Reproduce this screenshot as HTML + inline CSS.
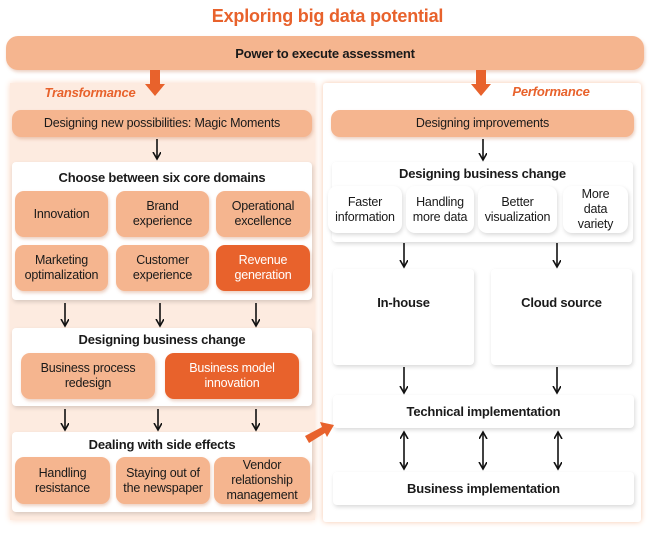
<!DOCTYPE html>
<html><head><meta charset="utf-8"><style>
body{margin:0;width:655px;height:536px;background:#fff;position:relative;overflow:hidden;font-family:"Liberation Sans",sans-serif;color:#1a1a1a}
.b{position:absolute;display:flex;align-items:center;justify-content:center;text-align:center;box-sizing:border-box;font-size:12.5px;line-height:15px;letter-spacing:-0.2px}
.p{background:#f5b58f;border-radius:9px;box-shadow:1px 2px 3px rgba(200,120,80,.35)}
.d{background:#e8622c;color:#fff;border-radius:9px;box-shadow:1px 2px 3px rgba(200,120,80,.35)}
.w{background:#fff;border-radius:4px;box-shadow:1px 2px 4px rgba(0,0,0,.15)}
.wt{background:#fff;border-radius:9px;box-shadow:1px 2px 4px rgba(0,0,0,.15)}
.t{position:absolute;font-size:13px;font-weight:bold;text-align:center;letter-spacing:-0.2px}
</style></head><body>
<div class="b" style="left:0;top:4px;width:655px;height:24px;color:#e8622c;font-size:18px;font-weight:bold">Exploring big data potential</div>
<div class="b p" style="left:6px;top:36px;width:638px;height:34px;border-radius:12px;font-weight:bold;font-size:13px">Power to execute assessment</div>
<div style="position:absolute;left:10px;top:83px;width:305px;height:437px;background:#fdebe0;box-shadow:0 0 6px #fbd9c5"></div>
<div style="position:absolute;left:323px;top:83px;width:318px;height:439px;background:#fff;box-shadow:0 0 6px #f7c7aa;border-radius:3px"></div>
<div class="b" style="left:40px;top:84px;width:100px;height:16px;color:#e8622c;font-style:italic;font-weight:bold;font-size:13px">Transformance</div>
<div class="b" style="left:510px;top:83px;width:82px;height:16px;color:#e8622c;font-style:italic;font-weight:bold;font-size:13px">Performance</div>

<div class="b p" style="left:12px;top:110px;width:300px;height:27px">Designing new possibilities: Magic Moments</div>
<div class="b w" style="left:12px;top:162px;width:300px;height:138px"></div>
<div class="t" style="left:12px;top:170px;width:300px">Choose between six core domains</div>
<div class="b p" style="left:15px;top:191px;width:93px;height:46px">Innovation</div>
<div class="b p" style="left:116px;top:191px;width:93px;height:46px">Brand<br>experience</div>
<div class="b p" style="left:216px;top:191px;width:94px;height:46px">Operational<br>excellence</div>
<div class="b p" style="left:15px;top:245px;width:93px;height:46px">Marketing<br>optimalization</div>
<div class="b p" style="left:116px;top:245px;width:93px;height:46px">Customer<br>experience</div>
<div class="b d" style="left:216px;top:245px;width:94px;height:46px">Revenue<br>generation</div>

<div class="b w" style="left:12px;top:328px;width:300px;height:78px"></div>
<div class="t" style="left:12px;top:332px;width:300px">Designing business change</div>
<div class="b p" style="left:21px;top:353px;width:134px;height:46px">Business process<br>redesign</div>
<div class="b d" style="left:165px;top:353px;width:134px;height:46px">Business model<br>innovation</div>

<div class="b w" style="left:12px;top:432px;width:300px;height:80px"></div>
<div class="t" style="left:12px;top:437px;width:300px">Dealing with side effects</div>
<div class="b p" style="left:15px;top:457px;width:95px;height:47px">Handling<br>resistance</div>
<div class="b p" style="left:116px;top:457px;width:94px;height:47px">Staying out of<br>the newspaper</div>
<div class="b p" style="left:214px;top:457px;width:96px;height:47px">Vendor<br>relationship<br>management</div>

<div class="b p" style="left:331px;top:110px;width:303px;height:27px">Designing improvements</div>
<div class="b w" style="left:332px;top:162px;width:301px;height:80px"></div>
<div class="t" style="left:332px;top:166px;width:301px">Designing business change</div>
<div class="b wt" style="left:328px;top:186px;width:74px;height:47px">Faster<br>information</div>
<div class="b wt" style="left:406px;top:186px;width:68px;height:47px">Handling<br>more data</div>
<div class="b wt" style="left:478px;top:186px;width:79px;height:47px">Better<br>visualization</div>
<div class="b wt" style="left:563px;top:186px;width:65px;height:47px">More<br>data<br>variety</div>
<div class="b w" style="left:333px;top:269px;width:141px;height:96px;align-items:flex-start;padding-top:26px;font-weight:bold;font-size:13px">In-house</div>
<div class="b w" style="left:491px;top:269px;width:141px;height:96px;align-items:flex-start;padding-top:26px;font-weight:bold;font-size:13px">Cloud source</div>
<div class="b w" style="left:333px;top:395px;width:301px;height:33px;font-weight:bold;font-size:13px">Technical implementation</div>
<div class="b w" style="left:333px;top:472px;width:301px;height:33px;font-weight:bold;font-size:13px">Business implementation</div>

<svg width="655" height="536" style="position:absolute;left:0;top:0">
<defs><marker id="a" markerWidth="10" markerHeight="10" refX="7" refY="4" orient="auto-start-reverse" markerUnits="userSpaceOnUse"><path d="M0,0 L7,4 L0,8" fill="none" stroke="#111" stroke-width="1.6"/></marker></defs>
<g fill="#e8622c">
<polygon points="150,70 160,70 160,84 165,84 155,96 145,84 150,84"/>
<polygon points="476,70 486,70 486,84 491,84 481,96 471,84 476,84"/>
<polygon points="305,436 322,427 320,422 334,425 327,437 325,433 309,443"/>
</g>
<g stroke="#111" stroke-width="1.6" marker-end="url(#a)">
<line x1="157" y1="139" x2="157" y2="159"/>
<line x1="65" y1="303" x2="65" y2="326"/><line x1="160" y1="303" x2="160" y2="326"/><line x1="256" y1="303" x2="256" y2="326"/>
<line x1="65" y1="409" x2="65" y2="430"/><line x1="158" y1="409" x2="158" y2="430"/><line x1="256" y1="409" x2="256" y2="430"/>
<line x1="483" y1="139" x2="483" y2="160"/>
<line x1="404" y1="243" x2="404" y2="267"/><line x1="557" y1="243" x2="557" y2="267"/>
<line x1="404" y1="367" x2="404" y2="393"/><line x1="557" y1="367" x2="557" y2="393"/>
</g>
<g stroke="#111" stroke-width="1.6" marker-end="url(#a)" marker-start="url(#a)">
<line x1="404" y1="432" x2="404" y2="469"/><line x1="483" y1="432" x2="483" y2="469"/><line x1="558" y1="432" x2="558" y2="469"/>
</g>
</svg>
</body></html>
